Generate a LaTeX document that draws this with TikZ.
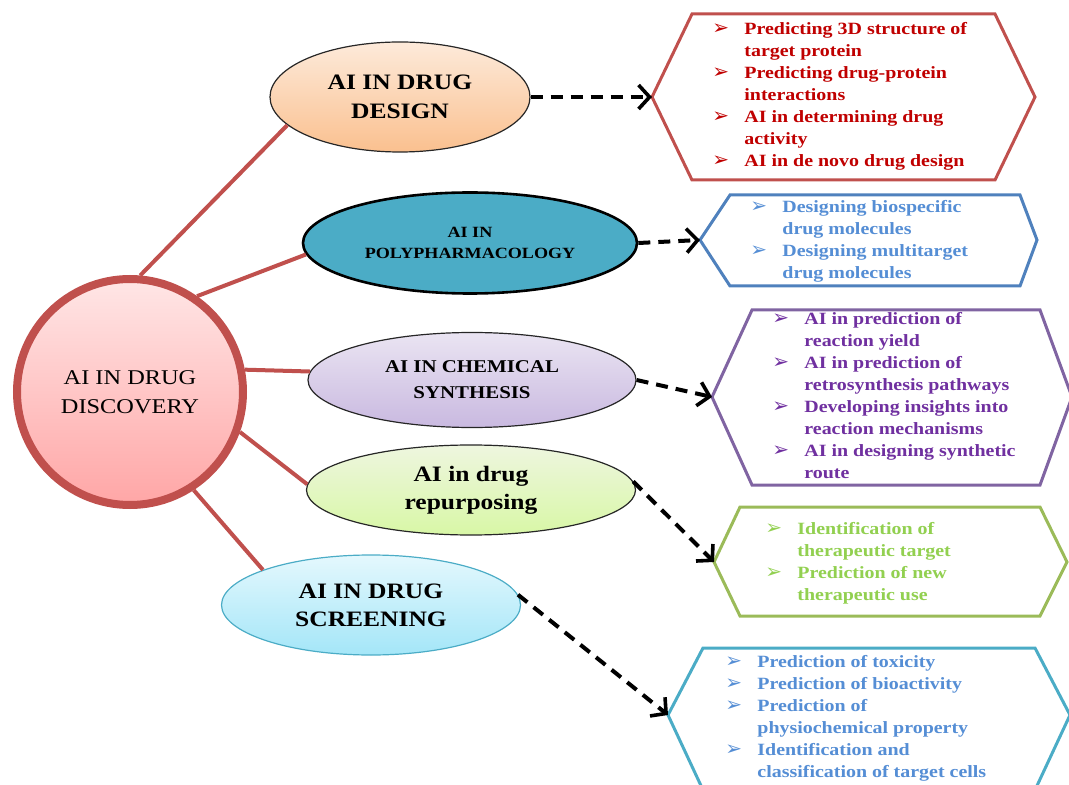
\documentclass[tikz,border=0pt]{standalone}
\usepackage{fontspec}
\setmainfont[FakeStretch=1.16]{Liberation Serif}
\newfontfamily\symfont{DejaVu Sans}
\usetikzlibrary{arrows.meta, positioning, shapes.geometric}

\definecolor{hubred}{HTML}{C0504D}
\definecolor{hexred}{HTML}{C0504D}
\definecolor{hexblue}{HTML}{4F81BD}
\definecolor{hexpurple}{HTML}{8064A2}
\definecolor{hexgreen}{HTML}{9BBB59}
\definecolor{hexteal}{HTML}{4BACC6}
\definecolor{txtred}{HTML}{C00000}
\definecolor{txtblue}{HTML}{558ED5}
\definecolor{txtpurple}{HTML}{7030A0}
\definecolor{txtgreen}{HTML}{92D050}
\definecolor{hubtop}{HTML}{FFE6E6}
\definecolor{hubbot}{HTML}{FFA6A6}
\definecolor{designtop}{HTML}{FDEADA}
\definecolor{designbot}{HTML}{FAC08F}
\definecolor{synthtop}{HTML}{EAE4F2}
\definecolor{synthbot}{HTML}{C9B9E0}
\definecolor{repurtop}{HTML}{EEF6DF}
\definecolor{repurbot}{HTML}{D8F7A6}
\definecolor{screentop}{HTML}{E4F8FD}
\definecolor{screenbot}{HTML}{A4E6F8}

\newcommand{\bul}{\makebox[16pt][l]{\symfont\fontsize{10}{10}\selectfont ➢}}

\begin{document}
\begin{tikzpicture}[
    x=0.5pt, y=-0.5pt,
    hub/.style={
        circle,
        draw=hubred,
        line width=4pt,
        minimum size=113pt,
        inner sep=0pt,
        top color=hubtop,
        bottom color=hubbot,
        align=center,
        font=\fontsize{10.5}{14.5}\selectfont,
    },
    topic/.style={
        ellipse,
        draw=black!85,
        line width=0.6pt,
        inner sep=0pt,
        align=center,
        font=\bfseries,
    },
    link/.style={
        draw=hubred,
        line width=2pt,
    },
    dasharrow/.style={
        line width=2pt,
        dash pattern=on 6pt off 4pt,
        -{Straight Barb[length=5.5pt,width=12pt,line width=1.8pt]},
    },
    hexa/.style={
        line width=1.5pt,
        line join=miter,
        fill=white,
    },
    listtxt/.style={
        anchor=west,
        inner sep=0pt,
        font=\fontsize{8.6}{11}\selectfont\bfseries,
    }
]
    \useasboundingbox (0,0) rectangle (1069,785);

    % Hub
    \node[hub] (hub) at (130,392) {AI IN DRUG\\DISCOVERY};

    % Topics
    \node[topic, minimum width=130pt, minimum height=55pt,
          top color=designtop, bottom color=designbot,
          font=\fontsize{11}{14.5}\selectfont\bfseries] (e1) at (400,97) {AI IN DRUG\\DESIGN};
    \node[topic, minimum width=167pt, minimum height=50.5pt, line width=1.3pt, draw=black,
          fill=hexteal,
          font=\fontsize{7.8}{10.5}\selectfont\bfseries] (e2) at (470,243) {AI IN\\POLYPHARMACOLOGY};
    \node[topic, minimum width=164pt, minimum height=47.5pt,
          top color=synthtop, bottom color=synthbot,
          font=\fontsize{9}{13}\selectfont\bfseries] (e3) at (472,380) {AI IN CHEMICAL\\SYNTHESIS};
    \node[topic, minimum width=164.5pt, minimum height=45pt,
          top color=repurtop, bottom color=repurbot,
          font=\fontsize{11}{14}\selectfont\bfseries] (e4) at (471,490) {AI in drug\\repurposing};
    \node[topic, minimum width=149.5pt, minimum height=50pt, draw=hexteal,
          top color=screentop, bottom color=screenbot,
          font=\fontsize{11}{14}\selectfont\bfseries] (e5) at (371,605) {AI IN DRUG\\SCREENING};

    % Hub links
    \draw[link] (hub.85) -- (e1.194);
    \draw[link] (hub.55) -- (e2.184);
    \draw[link] (hub.11) -- (e3.177);
    \draw[link] (hub.340) -- (e4.178);
    \draw[link] (hub.303) -- (e5.162);

    % Hexagons
    \draw[hexa, draw=hexred] (652,97) -- (692,14) -- (995,14) -- (1035,97) -- (995,180) -- (692,180) -- cycle;
    \coordinate (h1) at (652,97);
    \draw[hexa, draw=hexblue] (700,240) -- (730,195) -- (1020,195) -- (1037,240) -- (1020,286) -- (730,286) -- cycle;
    \coordinate (h2) at (700,240);
    \draw[hexa, draw=hexpurple] (712,397) -- (752,310) -- (1040,310) -- (1072,397) -- (1040,485) -- (752,485) -- cycle;
    \coordinate (h3) at (712,397);
    \draw[hexa, draw=hexgreen] (714,562) -- (740,507) -- (1040,507) -- (1067,562) -- (1040,616) -- (740,616) -- cycle;
    \coordinate (h4) at (714,562);
    \draw[hexa, draw=hexteal] (668,715) -- (703,648) -- (1035,648) -- (1070,715) -- (1035,790) -- (703,790) -- cycle;
    \coordinate (h5) at (668,715);

    % Lists
    \node[listtxt, text=txtred] (t1) at (712,96) {\begin{tabular}{@{}l@{}l@{}}
        \bul & Predicting 3D structure of\\
             & target protein\\
        \bul & Predicting drug-protein\\
             & interactions\\
        \bul & AI in determining drug\\
             & activity\\
        \bul & AI in de novo drug design
    \end{tabular}};
    \node[listtxt, text=txtblue] (t2) at (750,241) {\begin{tabular}{@{}l@{}l@{}}
        \bul & Designing biospecific\\
             & drug molecules\\
        \bul & Designing multitarget\\
             & drug molecules
    \end{tabular}};
    \node[listtxt, text=txtpurple] (t3) at (772,397) {\begin{tabular}{@{}l@{}l@{}}
        \bul & AI in prediction of\\
             & reaction yield\\
        \bul & AI in prediction of\\
             & retrosynthesis pathways\\
        \bul & Developing insights into\\
             & reaction mechanisms\\
        \bul & AI in designing synthetic\\
             & route
    \end{tabular}};
    \node[listtxt, text=txtgreen] (t4) at (765,563) {\begin{tabular}{@{}l@{}l@{}}
        \bul & Identification of\\
             & therapeutic target\\
        \bul & Prediction of new\\
             & therapeutic use
    \end{tabular}};
    \node[listtxt, text=txtblue] (t5) at (725,718) {\begin{tabular}{@{}l@{}l@{}}
        \bul & Prediction of toxicity\\
        \bul & Prediction of bioactivity\\
        \bul & Prediction of\\
             & physiochemical property\\
        \bul & Identification and\\
             & classification of target cells
    \end{tabular}};

    % Arrows
    \draw[dasharrow] (e1.east) -- (h1);
    \draw[dasharrow] (e2.east) -- (h2);
    \draw[dasharrow] (e3.east) -- (h3);
    \draw[dasharrow] (e4.3) -- (h4);
    \draw[dasharrow] (e5.4) -- (h5);
\end{tikzpicture}
\end{document}
